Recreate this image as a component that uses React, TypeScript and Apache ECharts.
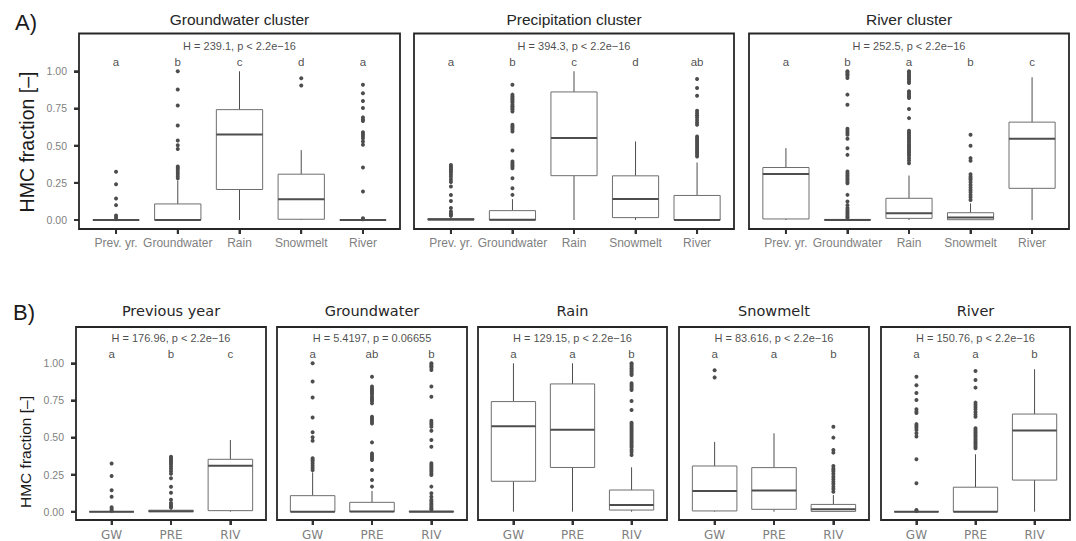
import React, { useEffect, useRef } from "react";
import * as echarts from "echarts";

// ---------------- DATA ----------------
const sourceNames = ["Prev. yr.", "Groundwater", "Rain", "Snowmelt", "River"];
const sourceTitles = ["Previous year", "Groundwater", "Rain", "Snowmelt", "River"];
const clusterTitles = ["Groundwater cluster", "Precipitation cluster", "River cluster"];
const clusterShort = ["GW", "PRE", "RIV"];
const yTicks = [0, 0.25, 0.5, 0.75, 1.0];

// box stats per source: [lower whisker, Q1, median, Q3, upper whisker]
const gwClusterBoxes = [
  [0, 0, 0, 0, 0],
  [0, 0, 0, 0.108, 0.265],
  [0, 0.205, 0.575, 0.742, 1.0],
  [0, 0.005, 0.14, 0.308, 0.47],
  [0, 0, 0, 0, 0],
];
const preClusterBoxes = [
  [0, 0, 0.003, 0.01, 0.022],
  [0, 0, 0.002, 0.063, 0.14],
  [0, 0.298, 0.552, 0.861, 1.0],
  [0, 0.016, 0.142, 0.297, 0.528],
  [0, 0, 0, 0.165, 0.387],
];
const rivClusterBoxes = [
  [0, 0.007, 0.31, 0.353, 0.483],
  [0, 0, 0, 0.004, 0.01],
  [0, 0.011, 0.045, 0.146, 0.299],
  [0, 0.002, 0.016, 0.049, 0.112],
  [0, 0.213, 0.547, 0.658, 0.96],
];

// outliers per source
const gwClusterOutliers = [
  [0.325, 0.24, 0.145, 0.1, 0.03, 0.018, 0.006],
  [1.0, 0.877, 0.77, 0.635, 0.535, 0.502, 0.478, 0.36, 0.35, 0.34, 0.325, 0.31, 0.295, 0.28],
  [],
  [0.953, 0.905],
  [0.91, 0.852, 0.8, 0.753, 0.69, 0.675, 0.665, 0.59, 0.578, 0.565, 0.55, 0.528, 0.506, 0.353, 0.191, 0.012, 0.005],
];
const preClusterOutliers = [
  [0.37, 0.36, 0.35, 0.34, 0.33, 0.32, 0.305, 0.29, 0.272, 0.255, 0.225, 0.168, 0.128, 0.08, 0.058, 0.045, 0.035, 0.028],
  [0.91, 0.843, 0.83, 0.82, 0.81, 0.8, 0.79, 0.775, 0.765, 0.755, 0.745, 0.73, 0.64, 0.63, 0.62, 0.608, 0.595, 0.467, 0.393, 0.382, 0.37, 0.36, 0.348, 0.281, 0.213, 0.169],
  [],
  [],
  [0.948, 0.888, 0.836, 0.735, 0.72, 0.705, 0.69, 0.672, 0.655, 0.64, 0.562, 0.55, 0.538, 0.528, 0.517, 0.506, 0.495, 0.483, 0.472, 0.461, 0.45, 0.438, 0.427],
];
const rivClusterOutliers = [
  [],
  [1.0, 0.99, 0.98, 0.97, 0.955, 0.843, 0.775, 0.613, 0.6, 0.587, 0.573, 0.546, 0.483, 0.438, 0.326, 0.315, 0.303, 0.292, 0.281, 0.27, 0.258, 0.247, 0.169, 0.124, 0.1, 0.08, 0.068, 0.056, 0.045, 0.034, 0.022, 0.015],
  [1.0, 0.99, 0.978, 0.966, 0.955, 0.944, 0.932, 0.921, 0.865, 0.854, 0.843, 0.832, 0.82, 0.746, 0.685, 0.6, 0.589, 0.578, 0.566, 0.555, 0.544, 0.533, 0.522, 0.51, 0.499, 0.488, 0.477, 0.466, 0.454, 0.443, 0.432, 0.416, 0.4, 0.382],
  [0.573, 0.499, 0.416, 0.398, 0.308, 0.292, 0.281, 0.27, 0.254, 0.236, 0.218, 0.202, 0.187, 0.169, 0.153, 0.135],
  [],
];

const clusterLetters = [
  ["a", "b", "c", "d", "a"],
  ["a", "b", "c", "d", "ab"],
  ["a", "b", "a", "b", "c"],
];
const sourceLetters = [
  ["a", "b", "c"],
  ["a", "ab", "b"],
  ["a", "a", "b"],
  ["a", "a", "b"],
  ["a", "a", "b"],
];
const clusterStats = [
  "H = 239.1, p < 2.2e\u221216",
  "H = 394.3, p < 2.2e\u221216",
  "H = 252.5, p < 2.2e\u221216",
];
const sourceStats = [
  "H = 176.96, p < 2.2e\u221216",
  "H = 5.4197, p = 0.06655",
  "H = 129.15, p < 2.2e\u221216",
  "H = 83.616, p < 2.2e\u221216",
  "H = 150.76, p < 2.2e\u221216",
];
const letterY = 1.065;
const statY = 1.17;

// ---------------- LAYOUT ----------------
const LIB = "Liberation Sans, Arial, sans-serif";
const DJV = "DejaVu Sans, sans-serif";
const topFrames = [[79, 400], [414, 734], [749, 1069]];
const botFrames = [[76, 266], [277, 467], [478, 667], [679, 869], [881, 1070]];

function buildOption() {
  const grid: any[] = [];
  const xAxis: any[] = [];
  const yAxis: any[] = [];
  const series: any[] = [];
  const graphic: any[] = [];
  const meta: any[] = [];

  const boxesByCluster = [gwClusterBoxes, preClusterBoxes, rivClusterBoxes];
  const outsByCluster = [gwClusterOutliers, preClusterOutliers, rivClusterOutliers];

  function addPanel(p: any) {
    const n = p.cats.length;
    const fw = p.fr - p.fl;
    const band = fw / (n + 0.2);
    const inset = band * 0.1;
    const rect = { left: p.fl + inset, top: p.top, width: band * n, height: p.height };

    const g = grid.length;
    grid.push({ ...rect });
    xAxis.push({
      gridIndex: g,
      type: "category",
      data: p.cats,
      axisLine: { show: false, onZero: false },
      axisTick: { show: true, alignWithLabel: true, length: 5, lineStyle: { color: "#333333", width: 2 } },
      axisLabel: { show: true, interval: 0, fontSize: 12, color: "#7f7f7f", margin: p.xMargin, fontFamily: p.xFont },
      splitLine: { show: false },
    });
    yAxis.push({
      gridIndex: g,
      type: "value",
      min: p.yMin,
      max: p.yMax,
      offset: inset,
      axisLine: { show: false, onZero: false },
      splitLine: { show: false },
      axisTick: { show: p.showY, length: 5, customValues: yTicks, lineStyle: { color: "#333333", width: 2 } },
      axisLabel: {
        show: p.showY,
        customValues: yTicks,
        formatter: (v: number) => v.toFixed(2),
        fontSize: 10.5,
        color: "#7f7f7f",
        margin: 12,
        fontFamily: LIB,
      },
    });
    meta.push({ g, n, fl: p.fl, bottom: p.top + p.height, showY: p.showY });

    series.push({
      type: "custom",
      xAxisIndex: g,
      yAxisIndex: g,
      encode: { x: 0, y: [1, 2, 3, 4, 5] },
      data: p.boxes.map((b: number[], i: number) => [i, ...b]),
      renderItem: (params: any, api: any) => {
        const x = api.value(0);
        const pts = [1, 2, 3, 4, 5].map((k) => api.coord([x, api.value(k)]));
        const cx = pts[0][0];
        const yLo = pts[0][1], yQ1 = pts[1][1], yMed = pts[2][1], yQ3 = pts[3][1], yHi = pts[4][1];
        const bw = api.size([1, 0])[0] * 0.75;
        return {
          type: "group",
          children: [
            { type: "line", shape: { x1: cx, y1: yQ1, x2: cx, y2: yLo }, style: { stroke: "#4d4d4d", lineWidth: 1 } },
            { type: "line", shape: { x1: cx, y1: yQ3, x2: cx, y2: yHi }, style: { stroke: "#4d4d4d", lineWidth: 1 } },
            {
              type: "rect",
              shape: { x: cx - bw / 2, y: yQ3, width: bw, height: yQ1 - yQ3 },
              style: { fill: "#ffffff", stroke: "#6e6e6e", lineWidth: 1 },
            },
            {
              type: "line",
              shape: { x1: cx - bw / 2, y1: yMed, x2: cx + bw / 2, y2: yMed },
              style: { stroke: "#4d4d4d", lineWidth: 2 },
            },
          ],
        };
      },
    });
    const outData: number[][] = [];
    p.outs.forEach((arr: number[], i: number) => arr.forEach((v) => outData.push([i, v])));
    series.push({
      type: "scatter",
      xAxisIndex: g,
      yAxisIndex: g,
      symbolSize: 4,
      itemStyle: { color: "#4d4d4d", opacity: 1 },
      data: outData,
      z: 3,
    });
    series.push({
      type: "scatter",
      xAxisIndex: g,
      yAxisIndex: g,
      symbolSize: 1,
      itemStyle: { color: "rgba(0,0,0,0)" },
      data: p.letters.map((_: string, i: number) => [i, letterY]),
      label: {
        show: true,
        position: "inside",
        formatter: (q: any) => p.letters[q.dataIndex],
        fontSize: 11.5,
        color: "#1a1a1a",
        fontFamily: LIB,
      },
    });
    series.push({
      type: "scatter",
      xAxisIndex: g,
      yAxisIndex: g,
      symbolSize: 1,
      itemStyle: { color: "rgba(0,0,0,0)" },
      data: [[(n - 1) / 2, statY]],
      label: {
        show: true,
        position: "inside",
        formatter: () => p.stat,
        fontSize: 11,
        color: "#1a1a1a",
        fontFamily: LIB,
      },
    });
    graphic.push({
      type: "rect",
      z: 100,
      shape: { x: p.fl, y: p.top, width: fw, height: p.height },
      style: { fill: "none", stroke: "#262626", lineWidth: 1.8 },
    });
    graphic.push({
      type: "text",
      x: (p.fl + p.fr) / 2,
      y: p.titleY,
      style: {
        text: p.title,
        fontSize: p.titleSize,
        fontFamily: p.titleFont,
        fill: "#262626",
        align: "center",
        verticalAlign: "middle",
        textAlign: "center",
        textVerticalAlign: "middle",
      },
    });
  }

  // Row A: by cluster
  for (let c = 0; c < 3; c++) {
    addPanel({
      fl: topFrames[c][0],
      fr: topFrames[c][1],
      top: 33.5,
      height: 195.5,
      yMin: -0.0605,
      yMax: 1.254,
      cats: sourceNames,
      boxes: boxesByCluster[c],
      outs: outsByCluster[c],
      letters: clusterLetters[c],
      stat: clusterStats[c],
      showY: c === 0,
      xFont: LIB,
      xMargin: 8,
      title: clusterTitles[c],
      titleY: 19,
      titleSize: 15.5,
      titleFont: LIB,
    });
  }
  // Row B: by source
  for (let s = 0; s < 5; s++) {
    addPanel({
      fl: botFrames[s][0],
      fr: botFrames[s][1],
      top: 327,
      height: 193,
      yMin: -0.056,
      yMax: 1.2446,
      cats: clusterShort,
      boxes: boxesByCluster.map((b) => b[s]),
      outs: outsByCluster.map((o) => o[s]),
      letters: sourceLetters[s],
      stat: sourceStats[s],
      showY: s === 0,
      xFont: DJV,
      xMargin: 9,
      title: sourceTitles[s],
      titleY: 311,
      titleSize: 14.5,
      titleFont: DJV,
    });
  }

  const txt = (text: string, x: number, y: number, size: number, rot = 0, align = "center") => ({
    type: "text",
    x,
    y,
    rotation: rot,
    style: {
      text,
      fontSize: size,
      fontFamily: LIB,
      fill: "#1a1a1a",
      align,
      verticalAlign: "middle",
      textAlign: align,
      textVerticalAlign: "middle",
    },
  });
  graphic.push(txt("A)", 15, 22, 22, 0, "left"));
  graphic.push(txt("B)", 13, 312, 22, 0, "left"));
  graphic.push(txt("HMC fraction [\u2013]", 27, 142, 19.5, Math.PI / 2));
  graphic.push(txt("HMC fraction [\u2013]", 25, 452, 15.5, Math.PI / 2));

  const option = {
    animation: false,
    backgroundColor: "#ffffff",
    textStyle: { fontFamily: LIB },
    grid,
    xAxis,
    yAxis,
    series,
    graphic,
  };
  return { option, meta, graphic };
}

export default function App() {
  const ref = useRef<HTMLDivElement>(null);
  useEffect(() => {
    if (!ref.current) return;
    const chart = echarts.init(ref.current, null, { renderer: "svg" });
    const { option, meta, graphic } = buildOption();
    chart.setOption(option as any);
    // tick marks placed through the axes' own scales (convertToPixel)
    try {
      const ticks: any[] = [];
      meta.forEach((m: any) => {
        for (let i = 0; i < m.n; i++) {
          const px = chart.convertToPixel({ xAxisIndex: m.g } as any, i) as any;
          if (typeof px === "number" && isFinite(px)) {
            ticks.push({
              type: "line",
              z: 90,
              shape: { x1: px, y1: m.bottom, x2: px, y2: m.bottom + 5 },
              style: { stroke: "#333333", lineWidth: 2 },
            });
          }
        }
        if (m.showY) {
          yTicks.forEach((v) => {
            const py = chart.convertToPixel({ yAxisIndex: m.g } as any, v) as any;
            if (typeof py === "number" && isFinite(py)) {
              ticks.push({
                type: "line",
                z: 90,
                shape: { x1: m.fl - 5, y1: py, x2: m.fl, y2: py },
                style: { stroke: "#333333", lineWidth: 2 },
              });
            }
          });
        }
      });
      chart.setOption({ graphic: [...graphic, ...ticks] } as any);
    } catch (e) {
      // keep chart as is
    }
    return () => chart.dispose();
  }, []);
  return (
    <div
      ref={ref}
      style={{ position: "fixed", left: 0, top: 0, width: 1076, height: 541, background: "#fff" }}
    />
  );
}
